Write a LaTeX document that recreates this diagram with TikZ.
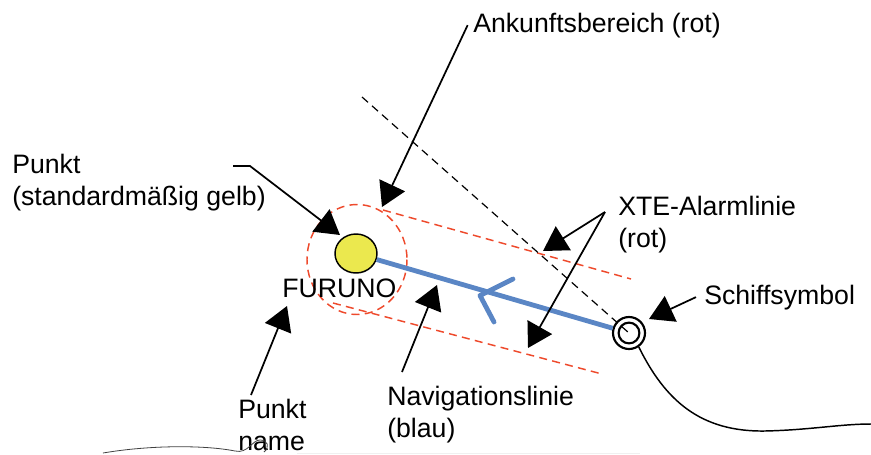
\documentclass[tikz,border=0pt]{standalone}
\usepackage{fontspec}
\setmainfont{Liberation Sans}
\usetikzlibrary{arrows.meta,shapes.geometric}
\definecolor{Wfill}{HTML}{EBE84E}
\definecolor{Nline}{HTML}{5A86C5}
\definecolor{Rline}{HTML}{EE4A2C}

\begin{document}
\begin{tikzpicture}[x=0.75pt,y=-0.75pt,line join=round,
  lbl/.style={font=\fontsize{20}{24}\selectfont,inner sep=0pt,align=left,anchor=base west},
  lead/.style={line width=1.3pt,-{Triangle[length=18pt,width=21pt]}},
  xte/.style={Rline,line width=1.1pt,dash pattern=on 6pt off 4pt}]
\useasboundingbox (0,0) rectangle (871,454);

% ---- arrival circle and XTE lines (red) ----
\draw[xte] (357,259.5) ellipse[x radius=50, y radius=55];
\draw[xte] (383,210) -- (631,279);
\draw[xte] (333,303) -- (602,374);

% ---- waypoint, ship and the heading line ----
\node[ellipse,draw,line width=1.1pt,fill=Wfill,minimum width=31.5pt,
      minimum height=29.25pt,inner sep=0pt] (wpt) at (356,253.5) {};
\node[circle,draw,line width=1.6pt,minimum size=24pt,inner sep=0pt] (ship) at (629,333) {};
\coordinate (hdg) at (362,97);
\draw[line width=0.9pt,dash pattern=on 6pt off 4pt] (hdg) -- (ship.center);
\draw[line width=1.6pt] (ship.center) circle[radius=7.8pt];

% ---- navigation line (blue) with its direction mark ----
\draw[Nline,line width=3.6pt] (wpt) -- (ship);
\draw[Nline,line width=3.6pt,line cap=round] (513,279) -- (480,295.5) -- (494,322);

% ---- ship track ----
\draw[line width=1.1pt] (ship.-55) .. controls (665,400) and (700,432) .. (765,431)
  .. controls (810,430) and (840,424) .. (871,424);

% ---- labels (base = last line) ----
\node[lbl] (ankunft) at (473,32)  {Ankunftsbereich (rot)};
\node[lbl] (punkt)   at (12,205)  {Punkt\\(standardmäßig gelb)};
\node[lbl] (furuno)  at (282,297) {FURUNO};
\node[lbl,text depth=0pt] (pname) at (238,450) {Punkt\\name};
\node[lbl] (navi)    at (387,437) {Navigationslinie\\(blau)};
\node[lbl] (alarm)   at (618,247) {XTE-Alarmlinie\\(rot)};
\node[lbl] (schiff)  at (704,304) {Schiffsymbol};

% ---- leaders ----
\coordinate (ankTip)  at (382,207);
\coordinate (wptLead) at (233,166);
\coordinate (wptTip)  at (340,235);
\coordinate (nameLead) at (251,395);
\coordinate (nameTip)  at (287,306);
\coordinate (naviLead) at (402,372);
\coordinate (naviTip)  at (437,285);
\coordinate (xteLead)  at (605,212);
\coordinate (xteTipA)  at (543,251);
\coordinate (xteTipB)  at (528,348);
\coordinate (shipTip)  at (649,319);

\draw[lead] ([xshift=-4pt]ankunft.west) -- (ankTip);
\draw[lead] (wptLead) -- ++(17,0) -- (wptTip);
\foreach \s/\t in {nameLead/nameTip, naviLead/naviTip, xteLead/xteTipA, xteLead/xteTipB}
  \draw[lead] (\s) -- (\t);
\draw[lead] ([xshift=-6pt]schiff.west) -- (shipTip);

% ---- scan remnants along the lower edge ----
\draw[black!75,line width=0.6pt] (103,453) .. controls (150,445) and (205,445) .. (235,451)
  .. controls (248,454) and (252,440) .. (260,440) .. controls (268,440) and (270,447) .. (264,452);
\draw[gray!12,line width=0.8pt] (297,453.5) -- (640,453.5);
\end{tikzpicture}
\end{document}
